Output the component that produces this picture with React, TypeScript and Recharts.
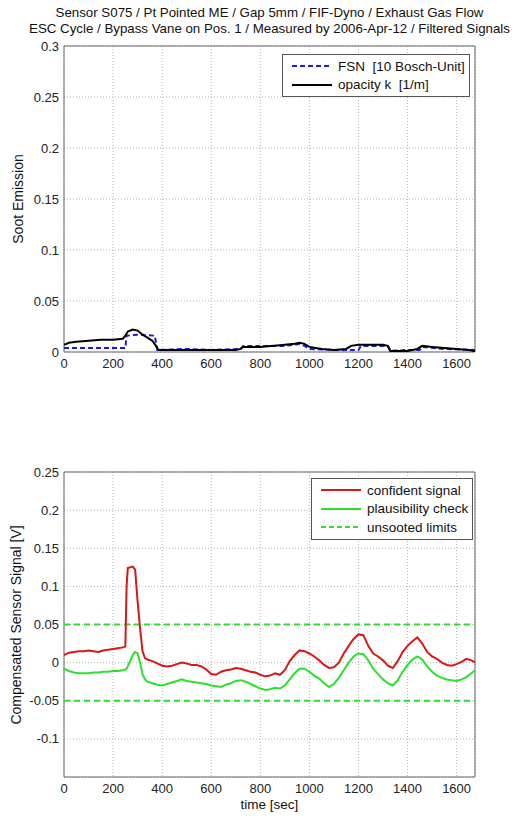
import { LineChart, Line, XAxis, YAxis, CartesianGrid, ReferenceArea } from 'recharts'

// top panel: soot emission
const fsnTime = [0, 250, 255, 300, 370, 380, 500, 600, 720, 730, 800, 900, 940, 960, 980, 1000, 1100, 1200, 1210, 1320, 1330, 1400, 1450, 1460, 1550, 1680]
const fsnValue = [0.004, 0.004, 0.016, 0.017, 0.016, 0.002, 0.003, 0.002, 0.003, 0.006, 0.006, 0.006, 0.007, 0.008, 0.006, 0.003, 0.002, 0.002, 0.006, 0.006, 0.001, 0.002, 0.002, 0.005, 0.003, 0.002]
const opacityTime = [0, 20, 50, 100, 150, 200, 240, 250, 260, 280, 300, 320, 340, 360, 375, 385, 400, 500, 600, 700, 720, 730, 800, 900, 940, 960, 980, 1000, 1050, 1100, 1150, 1170, 1200, 1250, 1300, 1320, 1330, 1400, 1440, 1460, 1500, 1550, 1600, 1650, 1670, 1680]
const opacityValue = [0.007, 0.009, 0.010, 0.011, 0.012, 0.012, 0.013, 0.016, 0.020, 0.022, 0.021, 0.017, 0.014, 0.011, 0.006, 0.002, 0.002, 0.002, 0.002, 0.002, 0.003, 0.005, 0.005, 0.007, 0.008, 0.009, 0.008, 0.005, 0.003, 0.002, 0.003, 0.006, 0.007, 0.007, 0.007, 0.006, 0.001, 0.001, 0.003, 0.006, 0.005, 0.004, 0.003, 0.002, 0.001, 0.000]
const sootTicks = [0, 0.05, 0.1, 0.15, 0.2, 0.25, 0.3]

// bottom panel: compensated sensor signal
const sigTime = [0, 20, 40, 60, 80, 100, 120, 140, 160, 180, 200, 220, 240, 250, 255, 260, 280, 290, 300, 310, 320, 330, 340, 360, 380, 400, 420, 440, 460, 480, 500, 520, 540, 560, 580, 600, 620, 640, 660, 680, 700, 720, 740, 760, 780, 800, 820, 840, 860, 880, 900, 920, 940, 960, 980, 1000, 1020, 1040, 1060, 1080, 1100, 1120, 1140, 1160, 1180, 1200, 1220, 1240, 1260, 1280, 1300, 1320, 1340, 1360, 1380, 1400, 1420, 1440, 1460, 1480, 1500, 1520, 1540, 1560, 1580, 1600, 1620, 1640, 1660, 1680]
const confident = [0.010, 0.013, 0.014, 0.015, 0.015, 0.016, 0.015, 0.014, 0.016, 0.017, 0.018, 0.019, 0.020, 0.021, 0.100, 0.124, 0.126, 0.122, 0.080, 0.045, 0.015, 0.006, 0.004, 0.002, -0.001, -0.004, -0.005, -0.004, -0.002, 0.000, -0.001, -0.003, -0.003, -0.005, -0.009, -0.015, -0.016, -0.012, -0.010, -0.009, -0.007, -0.008, -0.010, -0.012, -0.013, -0.016, -0.018, -0.017, -0.014, -0.016, -0.010, 0.002, 0.010, 0.016, 0.015, 0.012, 0.008, 0.003, -0.003, -0.007, -0.006, 0.000, 0.012, 0.022, 0.031, 0.037, 0.036, 0.022, 0.012, 0.008, 0.003, -0.004, -0.007, 0.002, 0.014, 0.022, 0.028, 0.033, 0.025, 0.014, 0.008, 0.005, 0.000, -0.003, -0.004, -0.002, 0.001, 0.005, 0.003, 0.000]
const plausibility = [-0.008, -0.011, -0.013, -0.014, -0.014, -0.014, -0.013, -0.013, -0.012, -0.012, -0.011, -0.011, -0.010, -0.009, -0.008, -0.005, 0.010, 0.014, 0.012, 0.000, -0.015, -0.022, -0.025, -0.027, -0.029, -0.030, -0.028, -0.026, -0.024, -0.022, -0.024, -0.025, -0.026, -0.027, -0.028, -0.030, -0.031, -0.032, -0.029, -0.027, -0.024, -0.023, -0.025, -0.028, -0.031, -0.034, -0.036, -0.035, -0.033, -0.034, -0.030, -0.022, -0.014, -0.008, -0.008, -0.012, -0.017, -0.021, -0.027, -0.032, -0.028, -0.020, -0.010, 0.000, 0.008, 0.012, 0.011, 0.003, -0.008, -0.015, -0.022, -0.027, -0.030, -0.023, -0.012, -0.003, 0.004, 0.008, 0.004, -0.005, -0.012, -0.017, -0.020, -0.022, -0.023, -0.024, -0.022, -0.019, -0.014, -0.009]
const limitTime = [0, 1680]
const upperLimit = [0.05, 0.05]
const lowerLimit = [-0.05, -0.05]
const sigTicks = [-0.1, -0.05, 0, 0.05, 0.1, 0.15, 0.2, 0.25]
const timeTicks = [0, 200, 400, 600, 800, 1000, 1200, 1400, 1600]

const X_MAX = 1675
const FONT = '"Liberation Sans", Arial, sans-serif'
const tick = { fill: '#222', fontSize: 13, fontFamily: FONT }

const fsnData = fsnTime.map((t, i) => ({ t, v: fsnValue[i] }))
const opacityData = opacityTime.map((t, i) => ({ t, v: opacityValue[i] }))
const sigData = sigTime.map((t, i) => ({ t, red: confident[i], green: plausibility[i] }))
const upperData = limitTime.map((t, i) => ({ t, v: upperLimit[i] }))
const lowerData = limitTime.map((t, i) => ({ t, v: lowerLimit[i] }))

function LegendBox({ left, top, width, items }: {
  left: number; top: number; width: number
  items: { label: string; color: string; dash?: string }[]
}) {
  return (
    <div style={{
      position: 'absolute', left, top, width, background: '#fff',
      border: '1px solid #555', padding: '2px 0', fontFamily: FONT, fontSize: 13.5, color: '#111',
    }}>
      {items.map(it => (
        <div key={it.label} style={{ display: 'flex', alignItems: 'center', height: 18.5 }}>
          <svg width={44} height={10} style={{ marginLeft: 7, marginRight: 4 }}>
            <line x1={2} y1={5} x2={42} y2={5} stroke={it.color} strokeWidth={2.2} strokeDasharray={it.dash} />
          </svg>
          <span style={{ whiteSpace: 'pre' }}>{it.label}</span>
        </div>
      ))}
    </div>
  )
}

function Rotated({ text, x, y }: { text: string; x: number; y: number }) {
  return (
    <div style={{
      position: 'absolute', left: x, top: y, transform: 'translate(-50%, -50%) rotate(-90deg)',
      whiteSpace: 'nowrap', fontFamily: FONT, fontSize: 14, color: '#111',
    }}>{text}</div>
  )
}

export default function App() {
  return (
    <div style={{ position: 'absolute', left: 0, top: 0, width: 529, height: 821, background: '#fff', fontFamily: FONT }}>
      <div style={{ position: 'absolute', left: 0, top: 5, width: 539, textAlign: 'center', fontSize: 13.3, lineHeight: '16px', color: '#111' }}>
        Sensor S075 / Pt Pointed ME / Gap 5mm / FIF-Dyno / Exhaust Gas Flow<br />
        ESC Cycle / Bypass Vane on Pos. 1 / Measured by 2006-Apr-12 / Filtered Signals
      </div>

      <div style={{ position: 'absolute', left: 0, top: 0 }}>
        <LineChart width={529} height={390} margin={{ top: 46, right: 54, bottom: 0, left: 0 }}>
          <CartesianGrid stroke="#b5b5b5" strokeDasharray="1 2" />
          <XAxis dataKey="t" type="number" domain={[0, X_MAX]} ticks={timeTicks} allowDataOverflow
            height={38} tickLine={false} axisLine={false} tickSize={0} tickMargin={7} tick={tick} />
          <YAxis type="number" domain={[0, 0.3]} ticks={sootTicks} allowDataOverflow
            width={64} tickLine={false} axisLine={false} tickSize={0} tickMargin={5} tick={tick} />
          <ReferenceArea x1={0} x2={X_MAX} y1={0} y2={0.3} fill="none" stroke="#666" strokeWidth={1} />
          <Line data={fsnData} dataKey="v" stroke="#1a1ad8" strokeWidth={2} strokeDasharray="5 3" dot={false} isAnimationActive={false} />
          <Line data={opacityData} dataKey="v" stroke="#000" strokeWidth={2} dot={false} isAnimationActive={false} />
        </LineChart>
      </div>
      <Rotated text="Soot Emission" x={18} y={199} />
      <LegendBox left={282} top={54} width={186} items={[
        { label: 'FSN  [10 Bosch-Unit]', color: '#1a1ad8', dash: '5 3' },
        { label: 'opacity k  [1/m]', color: '#000' },
      ]} />

      <div style={{ position: 'absolute', left: 0, top: 420 }}>
        <LineChart width={529} height={401} data={sigData} margin={{ top: 52, right: 54, bottom: 0, left: 0 }}>
          <CartesianGrid stroke="#b5b5b5" strokeDasharray="1 2" />
          <XAxis dataKey="t" type="number" domain={[0, X_MAX]} ticks={timeTicks} allowDataOverflow
            height={44} tickLine={false} axisLine={false} tickSize={0} tickMargin={7} tick={tick} />
          <YAxis type="number" domain={[-0.15, 0.25]} ticks={sigTicks} allowDataOverflow
            width={64} tickLine={false} axisLine={false} tickSize={0} tickMargin={5} tick={tick} />
          <ReferenceArea x1={0} x2={X_MAX} y1={-0.15} y2={0.25} fill="none" stroke="#666" strokeWidth={1} />
          <Line data={upperData} dataKey="v" stroke="#2ee02e" strokeWidth={2} strokeDasharray="6 4" dot={false} isAnimationActive={false} />
          <Line data={lowerData} dataKey="v" stroke="#2ee02e" strokeWidth={2} strokeDasharray="6 4" dot={false} isAnimationActive={false} />
          <Line dataKey="green" stroke="#2ee02e" strokeWidth={2} dot={false} isAnimationActive={false} />
          <Line dataKey="red" stroke="#d81818" strokeWidth={2} dot={false} isAnimationActive={false} />
        </LineChart>
      </div>
      <Rotated text="Compensated Sensor Signal [V]" x={16} y={625} />
      <div style={{ position: 'absolute', left: 0, top: 797, width: 539, textAlign: 'center', fontSize: 13.5, color: '#111' }}>time [sec]</div>
      <LegendBox left={311} top={478} width={160} items={[
        { label: 'confident signal', color: '#d81818' },
        { label: 'plausibility check', color: '#2ee02e' },
        { label: 'unsooted limits', color: '#2ee02e', dash: '5 3' },
      ]} />
    </div>
  )
}
